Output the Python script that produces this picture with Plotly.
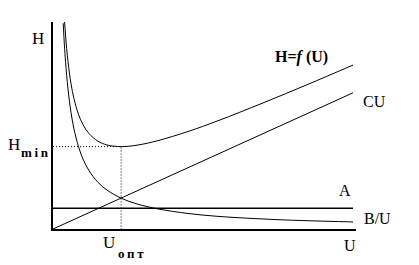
import plotly.graph_objects as go

# Values (arbitrary units)
u_bu = [0.34, 0.38, 0.42, 0.5, 0.6, 0.7, 0.85, 1.0, 1.2, 1.5, 1.8, 2.27, 2.8, 3.5, 4.5, 5.5, 6.5, 7.5, 8.5, 10]
bu_vals = [9.94, 8.89, 8.05, 6.76, 5.63, 4.83, 3.98, 3.38, 2.82, 2.25, 1.88, 1.49, 1.21, 0.97, 0.75, 0.61, 0.52, 0.45, 0.40, 0.34]

u_h = [0.38, 0.42, 0.5, 0.6, 0.7, 0.85, 1.0, 1.2, 1.5, 1.8, 2.27, 2.8, 3.5, 4.5, 5.5, 7, 8.5, 10]
h_vals = [10.14, 9.33, 8.09, 7.02, 6.29, 5.54, 5.04, 4.61, 4.24, 4.06, 3.98, 4.05, 4.27, 4.71, 5.23, 6.09, 6.99, 7.92]

u_cu = [0, 10]
cu_vals = [0, 6.58]

u_a = [0, 10]
a_vals = [1.0, 1.0]

u_opt = 2.27
h_min = 3.98

X_RANGE = [0, 10.1]
Y_RANGE = [0, 10]

L, R, T, B = 53, 63, 22, 36
W, H = 419, 265
pw, ph = W - L - R, H - T - B


def px_paper(px):
    return (px - L) / pw


def py_paper(py):
    return (H - B - py) / ph


fig = go.Figure()
fig.add_trace(go.Scatter(x=u_bu, y=bu_vals, mode="lines", line=dict(color="black", width=1, shape="spline")))
fig.add_trace(go.Scatter(x=u_h, y=h_vals, mode="lines", line=dict(color="black", width=1, shape="spline")))
fig.add_trace(go.Scatter(x=u_cu, y=cu_vals, mode="lines", line=dict(color="black", width=1)))
fig.add_trace(go.Scatter(x=u_a, y=a_vals, mode="lines", line=dict(color="black", width=1.5)))
fig.add_trace(go.Scatter(x=[0, u_opt, u_opt], y=[h_min, h_min, 0], mode="lines",
                         line=dict(color="black", width=1, dash="1px,2px")))

font = dict(family="Liberation Serif", size=16, color="black")
big = dict(family="Liberation Serif", size=17, color="black")
sub = dict(family="Liberation Serif", size=13, color="black")
labels = [
    ("H", 38, 38, big),
    ("H", 14, 144, big),
    ("<b>m\u2009i\u2009n</b>", 35, 153, sub),
    ("U", 109, 242, big),
    ("<b>о\u2009п\u2009т</b>", 131, 253, sub),
    ("<b>H=<i>f</i> (U)</b>", 301, 57, font),
    ("CU", 374, 101, font),
    ("A", 345, 190, font),
    ("B/U", 377, 218, font),
    ("U", 350, 246, font),
]
for txt, px, py, f in labels:
    fig.add_annotation(x=px_paper(px), y=py_paper(py), xref="paper", yref="paper",
                       text=txt, showarrow=False,
                       xanchor="center", yanchor="middle", font=f)

fig.update_layout(
    width=W, height=H, margin=dict(l=L, r=R, t=T, b=B),
    paper_bgcolor="white", plot_bgcolor="white", showlegend=False,
    xaxis=dict(range=X_RANGE, showgrid=False, zeroline=False, showticklabels=False,
               ticks="", showline=True, linecolor="black", linewidth=1.5),
    yaxis=dict(range=Y_RANGE, showgrid=False, zeroline=False, showticklabels=False,
               ticks="", showline=True, linecolor="black", linewidth=1.5),
)
fig.write_html("out.html")
